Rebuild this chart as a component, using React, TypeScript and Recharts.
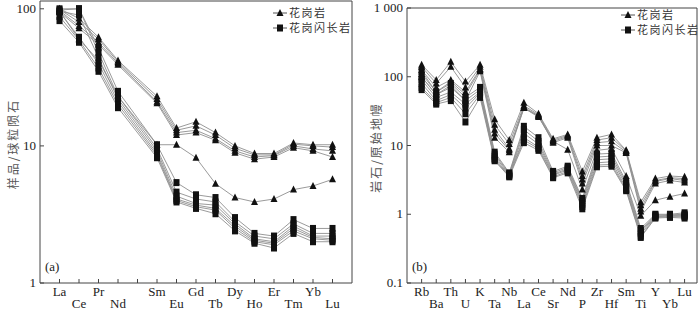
import React from 'react';
import { LineChart, Line, XAxis, YAxis } from 'recharts';

// chondrite-normalised REE (panel a); '' = empty Pm slot
const reeLabels = ['La', 'Ce', 'Pr', 'Nd', '', 'Sm', 'Eu', 'Gd', 'Tb', 'Dy', 'Ho', 'Er', 'Tm', 'Yb', 'Lu'];
const reeGranite = [
  [100, 85, 62, 42, null, 23, 13.5, 15, 12.5, 10, 8.8, 8.8, 10.5, 10.2, 10.2],
  [99, 80, 60, 41, null, 22, 13, 14, 12, 9.6, 8.6, 8.6, 10.3, 10, 9.8],
  [97, 75, 57, 40, null, 21, 12.5, 13, 11.3, 9.2, 8.3, 8.5, 10, 9.5, 9.2],
  [95, 72, 55, 39, null, 20.5, 12, 12.5, 11, 8.9, 8.0, 8.3, 9.7, 9.2, 8.3],
  [96, 60, 42, 23, null, 10.2, 10.2, 8.2, 5.3, 4.2, 3.9, 4.1, 4.8, 5.1, 5.7],
];
const reeGranodiorite = [
  [100, 100, 52, 25, null, 10.2, 5.4, 4.4, 4.2, 3.0, 2.3, 2.2, 2.9, 2.5, 2.5],
  [98, 100, 48, 23, null, 9.6, 4.6, 4.1, 3.9, 2.8, 2.2, 2.1, 2.7, 2.3, 2.3],
  [96, 90, 44, 22, null, 9.2, 4.3, 3.8, 3.7, 2.7, 2.1, 2.0, 2.6, 2.2, 2.2],
  [95, 62, 40, 21, null, 8.8, 4.1, 3.7, 3.5, 2.6, 2.05, 1.95, 2.5, 2.15, 2.1],
  [88, 59, 37, 20, null, 8.5, 4.0, 3.6, 3.4, 2.5, 2.0, 1.9, 2.4, 2.1, 2.05],
  [82, 57, 35, 19, null, 8.2, 3.9, 3.5, 3.2, 2.4, 1.95, 1.8, 2.3, 2.0, 2.0],
];

// primitive-mantle-normalised trace elements (panel b)
const spiderLabels = ['Rb', 'Ba', 'Th', 'U', 'K', 'Ta', 'Nb', 'La', 'Ce', 'Sr', 'Nd', 'P', 'Zr', 'Hf', 'Sm', 'Ti', 'Y', 'Yb', 'Lu'];
const spiderGranite = [
  [150, 90, 165, 85, 150, 24, 12, 42, 29, 12.5, 14.5, 4.2, 13, 14.5, 8.5, 1.5, 3.3, 3.6, 3.5],
  [140, 80, 140, 70, 140, 20, 10.5, 38, 28, 12, 14, 3.6, 12, 13, 8.3, 1.35, 3.1, 3.4, 3.3],
  [125, 70, 90, 60, 130, 17, 9, 36, 27, 11.5, 13.5, 3.2, 11, 11.5, 8, 1.2, 3.0, 3.3, 3.1],
  [110, 60, 85, 55, 125, 15, 8.5, 35, 27, 11, 13, 2.8, 10, 10, 7.8, 1.1, 2.8, 3.1, 2.9],
  [100, 55, 75, 45, 120, 13, 8, 35, 26, 11.5, 8.7, 2.3, 8.5, 9, 3.6, 0.95, 1.6, 1.8, 2.0],
];
const spiderGranodiorite = [
  [120, 60, 80, 50, 70, 8, 4.0, 19, 13, 4.2, 5.0, 1.7, 7.5, 7.7, 3.0, 0.62, 1.0, 1.0, 1.05],
  [100, 55, 70, 45, 65, 7.5, 3.9, 17, 11.5, 4.0, 4.8, 1.6, 6.8, 7.0, 2.8, 0.58, 0.98, 0.98, 1.0],
  [90, 50, 60, 40, 60, 7, 3.8, 15, 10.5, 3.8, 4.6, 1.5, 6.2, 6.4, 2.6, 0.55, 0.95, 0.96, 0.97],
  [80, 45, 55, 35, 58, 6.5, 3.7, 13, 9.5, 3.7, 4.4, 1.4, 5.6, 5.8, 2.4, 0.52, 0.92, 0.94, 0.95],
  [70, 42, 50, 29, 55, 6.2, 3.6, 12, 9, 3.5, 4.2, 1.3, 5.2, 5.3, 2.3, 0.48, 0.9, 0.92, 0.92],
  [65, 40, 45, 22, 50, 6, 3.5, 11, 8.5, 3.4, 4.0, 1.2, 4.9, 5.0, 2.2, 0.46, 0.88, 0.9, 0.88],
];

const serif = '"Liberation Serif", "Times New Roman", serif';
const cjk = '"Noto Sans CJK SC", sans-serif';
const axisColor = '#444';
const lineColor = '#8f8f8f';

const buildRows = (labels: string[], granite: (number | null)[][], dior: (number | null)[][]) =>
  labels.map((_, i) => {
    const row: Record<string, number | null> = { i };
    granite.forEach((s, k) => (row[`g${k}`] = s[i]));
    dior.forEach((s, k) => (row[`d${k}`] = s[i]));
    return row;
  });

const Triangle = ({ cx, cy }: any) => {
  if (cx == null || cy == null) return <g />;
  return <polygon points={`${cx},${cy - 4} ${cx - 3.5},${cy + 3} ${cx + 3.5},${cy + 3}`} fill="#111" />;
};

const Square = ({ cx, cy }: any) => {
  if (cx == null || cy == null) return <g />;
  return <rect x={cx - 3} y={cy - 3.5} width={6} height={7} fill="#111" />;
};

const LegendBox = ({ left, top }: { left: number; top: number }) => (
  <div style={{ position: 'absolute', left, top, fontFamily: cjk, fontSize: 11, letterSpacing: 1.5, color: '#333', lineHeight: '15px' }}>
    <div style={{ display: 'flex', alignItems: 'center' }}>
      <svg width={16} height={10}>
        <line x1={1} x2={15} y1={5} y2={5} stroke="#555" />
        <polygon points="8,1 4.5,8 11.5,8" fill="#111" />
      </svg>
      <span style={{ marginLeft: 1 }}>花岗岩</span>
    </div>
    <div style={{ display: 'flex', alignItems: 'center' }}>
      <svg width={16} height={10}>
        <line x1={1} x2={15} y1={5} y2={5} stroke="#555" />
        <rect x={5} y={1.5} width={6} height={7} fill="#111" />
      </svg>
      <span style={{ marginLeft: 1 }}>花岗闪长岩</span>
    </div>
  </div>
);

type PanelProps = {
  left: number;
  width: number;
  top: number;
  right: number;
  yWidth: number;
  labels: string[];
  granite: (number | null)[][];
  granodiorite: (number | null)[][];
  xDomain: [number, number];
  yDomain: [number, number];
  yTicks: number[];
  yTitle: string;
  yTitleX: number;
  tag: string;
  legendPos: { left: number; top: number };
};

const Panel = (p: PanelProps) => {
  const data = buildRows(p.labels, p.granite, p.granodiorite);
  let k = 0;
  const rowOf = p.labels.map((l) => (l ? k++ % 2 : 0));
  const xTicks = p.labels.map((_, i) => i);

  const XTick = (t: any) => {
    const { x, y, payload } = t;
    const idx = payload.value;
    const label = p.labels[idx];
    return (
      <g>
        <line x1={x} x2={x} y1={y} y2={y - 4} stroke={axisColor} strokeWidth={1} />
        {label ? (
          <text x={x} y={y + (rowOf[idx] ? 25 : 13)} textAnchor="middle" fontFamily={serif} fontSize={13} fill="#222">
            {label}
          </text>
        ) : null}
      </g>
    );
  };

  const YTick = (t: any) => {
    const { x, y, payload } = t;
    const v = payload.value;
    const txt = v >= 1000 ? '1 000' : String(v);
    return (
      <g>
        <line x1={x} x2={x + 4} y1={y} y2={y} stroke={axisColor} strokeWidth={1} />
        <text x={x - 4} y={y} dy={4} textAnchor="end" fontFamily={serif} fontSize={13} fill="#222">
          {txt}
        </text>
      </g>
    );
  };

  const YTitle = ({ viewBox }: any) => {
    const cx = viewBox.x + p.yTitleX;
    const cy = viewBox.y + viewBox.height / 2 + 2;
    return (
      <text x={cx} y={cy} transform={`rotate(-90, ${cx}, ${cy})`} textAnchor="middle" dominantBaseline="central" fontFamily={cjk} fontSize={12} fill="#555" letterSpacing={2}>
        {p.yTitle}
      </text>
    );
  };

  return (
    <div style={{ position: 'absolute', left: p.left, top: 0, width: p.width, height: 310 }}>
      <LineChart width={p.width} height={310} data={data} margin={{ top: p.top, right: p.right, bottom: 0, left: 0 }}>
        <XAxis dataKey="i" type="number" domain={p.xDomain} ticks={xTicks} interval={0} allowDataOverflow
          tick={XTick} tickLine={false} tickSize={0} tickMargin={0} height={27}
          axisLine={{ stroke: axisColor, strokeWidth: 1 }} stroke={axisColor} />
        <XAxis xAxisId="top" dataKey="i" type="number" orientation="top" domain={p.xDomain} allowDataOverflow
          tick={false} tickLine={false} height={1} axisLine={{ stroke: axisColor, strokeWidth: 1 }} stroke={axisColor} />
        <YAxis type="number" scale="log" domain={p.yDomain} ticks={p.yTicks} allowDataOverflow interval={0}
          width={p.yWidth} tick={YTick} tickLine={false} tickSize={0} tickMargin={0}
          axisLine={{ stroke: axisColor, strokeWidth: 1 }} stroke={axisColor} label={YTitle} />
        <YAxis yAxisId="right" type="number" scale="log" orientation="right" domain={p.yDomain} allowDataOverflow
          width={1} tick={false} tickLine={false} axisLine={{ stroke: axisColor, strokeWidth: 1 }} stroke={axisColor} />
        {p.granodiorite.map((_, j) => (
          <Line key={`d${j}`} dataKey={`d${j}`} stroke={lineColor} strokeWidth={0.9} connectNulls
            dot={(d: any) => <Square key={`ds${j}-${d.index}`} {...d} />} isAnimationActive={false} />
        ))}
        {p.granite.map((_, j) => (
          <Line key={`g${j}`} dataKey={`g${j}`} stroke={lineColor} strokeWidth={0.9} connectNulls
            dot={(d: any) => <Triangle key={`gt${j}-${d.index}`} {...d} />} isAnimationActive={false} />
        ))}
      </LineChart>
      <LegendBox left={p.legendPos.left} top={p.legendPos.top} />
      <div style={{ position: 'absolute', left: p.yWidth + 5, top: 259, fontFamily: serif, fontSize: 13, color: '#222' }}>
        {p.tag}
      </div>
    </div>
  );
};

export default function App() {
  return (
    <div style={{ position: 'absolute', left: 0, top: 0, width: 700, height: 310, background: '#fff' }}>
      <Panel left={0} width={356} top={0} right={3} yWidth={40}
        labels={reeLabels} granite={reeGranite} granodiorite={reeGranodiorite}
        xDomain={[-1, 15]} yDomain={[1, 114]} yTicks={[1, 10, 100]}
        yTitle="样品/球粒陨石" yTitleX={12} tag="(a)" legendPos={{ left: 272, top: 5 }} />
      <Panel left={357} width={343} top={7} right={2} yWidth={50}
        labels={spiderLabels} granite={spiderGranite} granodiorite={spiderGranodiorite}
        xDomain={[-1, 18.85]} yDomain={[0.1, 1000]} yTicks={[0.1, 1, 10, 100, 1000]}
        yTitle="岩石/原始地幔" yTitleX={18} tag="(b)" legendPos={{ left: 263, top: 7 }} />
    </div>
  );
}
